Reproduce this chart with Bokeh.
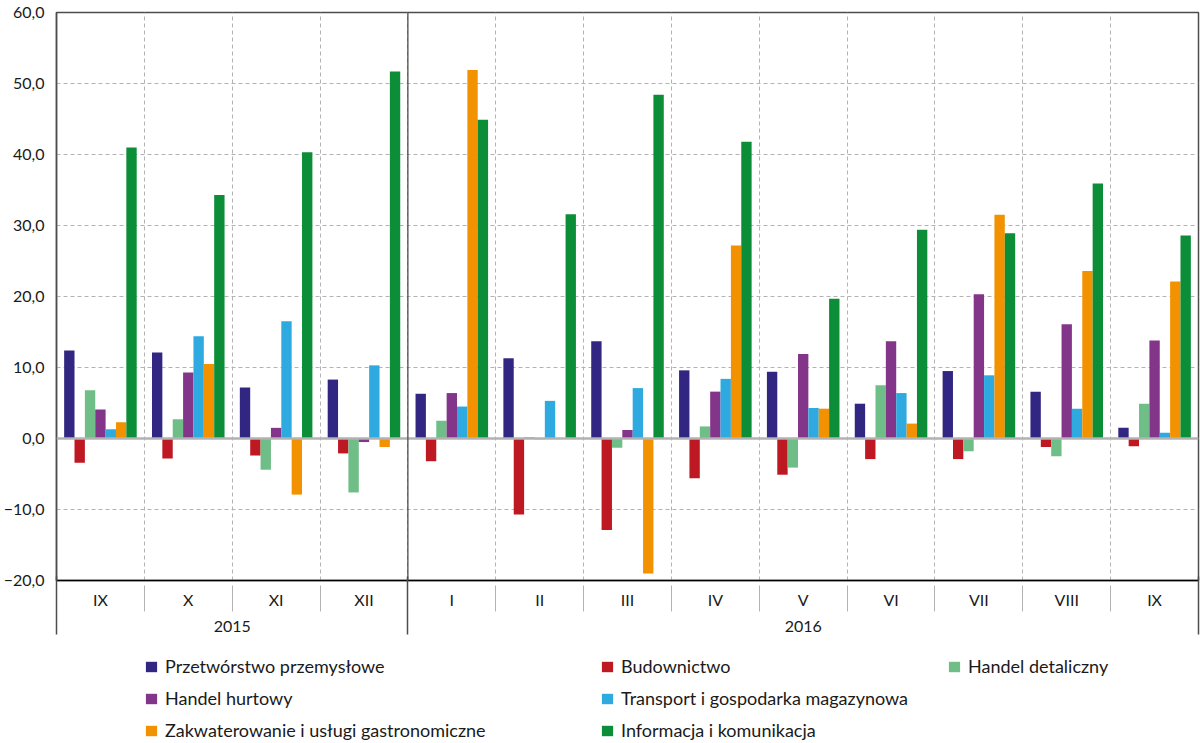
import numpy as np
from bokeh.plotting import figure
from bokeh.layouts import column
from bokeh.models import (ColumnDataSource, Range1d, FixedTicker, LinearAxis, Span,
                          Legend, LegendItem)
from bokeh.transform import dodge
from bokeh.embed import file_html
from bokeh.resources import INLINE

# ---------------- data ----------------
months = ["IX", "X", "XI", "XII", "I", "II", "III", "IV", "V", "VI", "VII", "VIII", "IX"]
year_labels = ["2015", "2016"]
year_counts = [4, 9]

series_labels = [
    "Przetwórstwo przemysłowe",
    "Budownictwo",
    "Handel detaliczny",
    "Handel hurtowy",
    "Transport i gospodarka magazynowa",
    "Zakwaterowanie i usługi gastronomiczne",
    "Informacja i komunikacja",
]
przetworstwo = [12.4, 12.1, 7.2, 8.3, 6.3, 11.3, 13.7, 9.6, 9.4, 4.9, 9.5, 6.6, 1.5]
budownictwo = [-3.4, -2.8, -2.4, -2.1, -3.2, -10.7, -12.9, -5.6, -5.1, -2.9, -2.9, -1.2, -1.1]
handel_detaliczny = [6.8, 2.7, -4.4, -7.6, 2.5, 0.2, -1.3, 1.7, -4.1, 7.5, -1.8, -2.5, 4.9]
handel_hurtowy = [4.1, 9.3, 1.5, -0.5, 6.4, -0.1, 1.2, 6.6, 11.9, 13.7, 20.3, 16.1, 13.8]
transport = [1.3, 14.4, 16.5, 10.3, 4.5, 5.3, 7.1, 8.4, 4.3, 6.4, 8.9, 4.2, 0.8]
zakwaterowanie = [2.3, 10.5, -7.9, -1.2, 51.9, 0.0, -19.0, 27.2, 4.2, 2.1, 31.5, 23.6, 22.1]
informacja = [41.0, 34.3, 40.3, 51.7, 44.9, 31.6, 48.4, 41.8, 19.7, 29.4, 28.9, 35.9, 28.6]

colors = ["#312783", "#be1823", "#6fbe87", "#833589", "#2eaae1", "#f39200", "#0c8e38"]

y_ticks = [-20, -10, 0, 10, 20, 30, 40, 50, 60]
y_tick_labels = ["\u221220,0", "\u221210,0", "0,0", "10,0", "20,0", "30,0", "40,0", "50,0", "60,0"]

# ---------------- build ----------------
n = len(months)
xc = [i + 0.5 for i in range(n)]
cols = ["przetworstwo", "budownictwo", "handel_detaliczny", "handel_hurtowy",
        "transport", "zakwaterowanie", "informacja"]
source = ColumnDataSource(dict(
    x=xc,
    przetworstwo=przetworstwo, budownictwo=budownictwo,
    handel_detaliczny=handel_detaliczny, handel_hurtowy=handel_hurtowy,
    transport=transport, zakwaterowanie=zakwaterowanie, informacja=informacja,
))

FONT = "Lato"
TXT = "#1a1a1a"
DARK = "#4d4d4d"
GRID = "#b3b3b3"

p = figure(frame_width=1142, frame_height=568,
           x_range=Range1d(0, n), y_range=Range1d(-20, 60),
           output_backend="svg", toolbar_location=None,
           min_border_left=55, min_border_right=2, min_border_top=12, min_border_bottom=60)
p.outline_line_color = DARK
p.outline_line_width = 1.5

bar_w = 0.118
k = len(cols)
for i, (c, col) in enumerate(zip(cols, colors)):
    off = (i - (k - 1) / 2) * bar_w
    p.vbar(x=dodge("x", off, range=p.x_range), top=c, bottom=0, width=bar_w,
           source=source, fill_color=col, line_color=None)

# group boundaries
bounds = np.cumsum([0] + year_counts).tolist()
year_centers = [(bounds[i] + bounds[i + 1]) / 2 for i in range(len(year_counts))]
inner = [b for b in range(1, n) if b not in bounds]

# grids
p.xgrid.ticker = FixedTicker(ticks=[b for b in range(1, n)])
p.ygrid.ticker = FixedTicker(ticks=y_ticks)
for g in (p.xgrid, p.ygrid):
    g.grid_line_color = GRID
    g.grid_line_dash = "4 3"
    g.grid_line_width = 1

# zero line and year separator
p.add_layout(Span(location=0, dimension="width", line_color="#b2b2b2", line_width=2.5))
for b in bounds[1:-1]:
    p.add_layout(Span(location=b, dimension="height", line_color=DARK, line_width=1.3))

# y axis
ya = p.yaxis[0]
ya.ticker = FixedTicker(ticks=y_ticks)
ya.major_label_overrides = dict(zip(y_ticks, y_tick_labels))
ya.axis_line_color = DARK
ya.axis_line_width = 1.5
ya.major_tick_out = 0
ya.major_tick_in = 0
ya.minor_tick_line_color = None
ya.major_label_standoff = 12
ya.major_label_text_font = FONT
ya.major_label_text_font_size = "16px"
ya.major_label_text_color = TXT


def style_labels(ax, standoff):
    ax.major_label_standoff = standoff
    ax.major_label_text_font = FONT
    ax.major_label_text_font_size = "16px"
    ax.major_label_text_color = TXT
    ax.major_tick_out = 0
    ax.major_tick_in = 0
    ax.minor_tick_out = 0


# x axis A: month labels
xa = p.xaxis[0]
xa.ticker = FixedTicker(ticks=xc)
xa.major_label_overrides = {float(x): m for x, m in zip(xc, months)}
xa.axis_line_color = "black"
xa.axis_line_width = 1.5
style_labels(xa, 9)
xa.minor_tick_line_color = None

# x axis Y: year labels + light month separators drawn upward
xy = LinearAxis(ticker=FixedTicker(ticks=year_centers, minor_ticks=inner),
                major_label_overrides={float(c): y for c, y in zip(year_centers, year_labels)})
xy.axis_line_color = None
style_labels(xy, 9)
xy.minor_tick_in = 26
xy.minor_tick_line_color = GRID
xy.minor_tick_line_width = 1
p.add_layout(xy, "below")

# x axis Z: dark group separators, no labels
xz = LinearAxis(ticker=FixedTicker(ticks=[], minor_ticks=bounds))
xz.axis_line_color = None
style_labels(xz, 0)
xz.minor_tick_in = 58
xz.minor_tick_line_color = DARK
xz.minor_tick_line_width = 1.5
p.add_layout(xz, "below")

# ---------------- legend strip ----------------
# swatch renderers share the chart's data but sit outside this strip's visible range
p2 = figure(width=1199, height=102, x_range=Range1d(0, n), y_range=Range1d(1000, 1001),
            output_backend="svg", toolbar_location=None,
            x_axis_location=None, y_axis_location=None,
            min_border_left=0, min_border_right=0, min_border_top=0, min_border_bottom=0)
p2.outline_line_color = None
p2.grid.visible = False
swatches = [p2.vbar(x="x", top=c, bottom=0, width=bar_w, source=source,
                    fill_color=col, line_color=None) for c, col in zip(cols, colors)]

leg_kw = dict(glyph_width=14, glyph_height=13, label_standoff=7,
              label_text_font=FONT, label_text_font_size="18px", label_text_color=TXT,
              padding=0, margin=0, spacing=10, label_height=20,
              border_line_color=None, background_fill_alpha=0)
# p2's frame is aligned with the chart frame (left edge at x=55)
groups = [([0, 3, 5], (88, 1)), ([1, 4, 6], (544, 1)), ([2], (891, 65))]
for idxs, loc in groups:
    items = [LegendItem(label=series_labels[i], renderers=[swatches[i]]) for i in idxs]
    p2.add_layout(Legend(items=items, location=loc, **leg_kw))

layout = column(p, p2, spacing=0)
open("out.html", "w").write(file_html(layout, INLINE))
